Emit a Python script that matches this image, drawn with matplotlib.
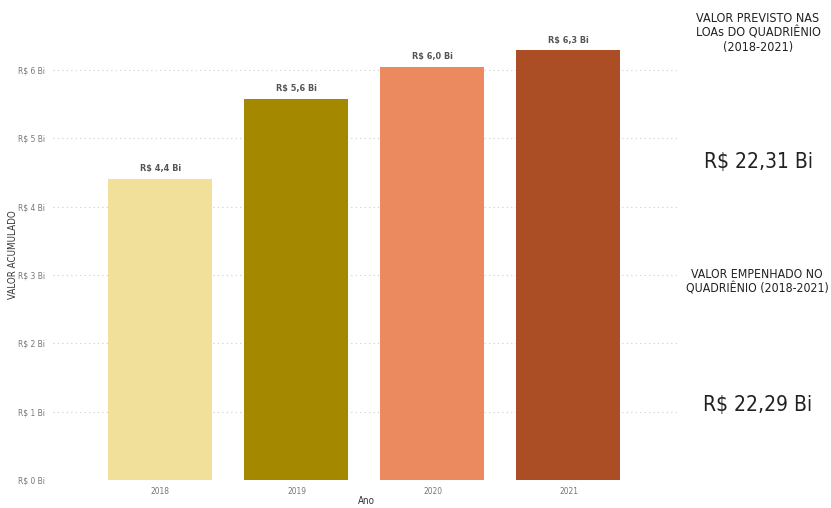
import matplotlib
matplotlib.use("Agg")
import matplotlib.pyplot as plt
from matplotlib.ticker import FixedLocator

anos = ["2018", "2019", "2020", "2021"]
valores = [4.41, 5.58, 6.05, 6.29]
rotulos = ["R$ 4,4 Bi", "R$ 5,6 Bi", "R$ 6,0 Bi", "R$ 6,3 Bi"]
cores = ["#F1E09A", "#A38800", "#EB8A5F", "#AB4E25"]
yticks = [0, 1, 2, 3, 4, 5, 6]
ytick_labels = [f"R$ {v} Bi" for v in yticks]

plt.rcParams['font.family'] = ['DejaVu Sans']
plt.rcParams['font.stretch'] = 'condensed'

fig = plt.figure(figsize=(8.31, 5.08), dpi=100)
ax = fig.add_axes([53/831, 1-480/508, (680-53)/831, (480-36)/508])
x = list(range(len(anos)))
ax.bar(x, valores, width=0.765, color=cores, zorder=3)
for xi, v, r in zip(x, valores, rotulos):
    ax.text(xi, v + 0.08, r, ha='center', va='bottom', fontsize=6.5, color='#555555', fontweight='bold')
ax.set_xlim(-0.79, 3.82)
ax.set_ylim(0, 6.5)
ax.yaxis.set_major_locator(FixedLocator(yticks))
ax.set_yticklabels(ytick_labels)
ax.set_xticks(x)
ax.set_xticklabels(anos)
ax.tick_params(axis='both', length=0, labelsize=6, colors='#777777')
ax.tick_params(axis='y', pad=6)
ax.tick_params(axis='x', pad=5)
ax.grid(axis='y', linestyle=(0, (1, 3)), color='#CCCCCC', linewidth=0.8, zorder=0)
for s in ax.spines.values():
    s.set_visible(False)
ax.set_xlabel("Ano", fontsize=7, color='#333333')
ax.set_ylabel("VALOR ACUMULADO", fontsize=7, color='#333333')
ax.xaxis.set_label_coords((366-53)/627, -21/444, transform=ax.transAxes)
ax.yaxis.set_label_coords(-40/627, (480-255)/444, transform=ax.transAxes)
ax.xaxis.label.set_va('center')
ax.yaxis.label.set_va('center')

fig.text(758/831, 1-33/508, "VALOR PREVISTO NAS\nLOAs DO QUADRIÊNIO\n(2018-2021)", ha='center', va='center',
         fontsize=9, color='#222222', linespacing=1.1)
fig.text(758/831, 1-162/508, "R$ 22,31 Bi", ha='center', va='center', fontsize=15, color='#222222')
fig.text(757/831, 1-282/508, "VALOR EMPENHADO NO\nQUADRIÊNIO (2018-2021)", ha='center', va='center',
         fontsize=8.8, color='#222222', linespacing=1.1)
fig.text(758/831, 1-405/508, "R$ 22,29 Bi", ha='center', va='center', fontsize=15, color='#222222')

fig.savefig("out.png", dpi=100)
